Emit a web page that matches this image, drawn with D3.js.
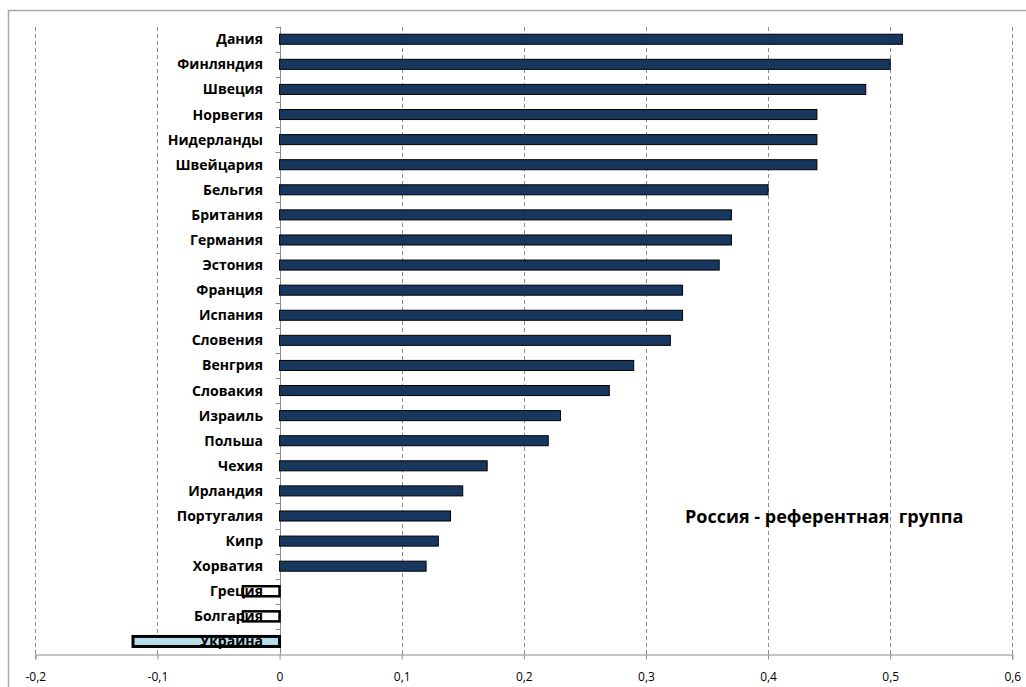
<!DOCTYPE html>
<html>
<head>
<meta charset="utf-8">
<script src="https://cdn.jsdelivr.net/npm/d3@7"></script>
<style>
  html, body { margin: 0; padding: 0; background: #fff; }
  svg { display: block; }
  text { font-family: "Open Sans", Lato, "DejaVu Sans", sans-serif; }
</style>
</head>
<body>
<svg id="chart" width="1026" height="687"></svg>
<script>
// Countries, top to bottom
const countries = [
  "Дания", "Финляндия", "Швеция", "Норвегия", "Нидерланды", "Швейцария",
  "Бельгия", "Британия", "Германия", "Эстония", "Франция", "Испания",
  "Словения", "Венгрия", "Словакия", "Израиль", "Польша", "Чехия",
  "Ирландия", "Португалия", "Кипр", "Хорватия", "Греция", "Болгария", "Украина"
];
// Difference against the reference group (Russia)
const values = [
  0.51, 0.50, 0.48, 0.44, 0.44, 0.44,
  0.40, 0.37, 0.37, 0.36, 0.33, 0.33,
  0.32, 0.29, 0.27, 0.23, 0.22, 0.17,
  0.15, 0.14, 0.13, 0.12, -0.03, -0.03, -0.12
];
// Bar style groups: 0 = regular, 1 = outlined, 2 = highlighted
const barStyle = [
  0, 0, 0, 0, 0, 0, 0, 0, 0, 0, 0, 0,
  0, 0, 0, 0, 0, 0, 0, 0, 0, 0, 1, 1, 2
];
const tickValues = [-0.2, -0.1, 0, 0.1, 0.2, 0.3, 0.4, 0.5, 0.6];
const tickLabels = ["-0,2", "-0,1", "0", "0,1", "0,2", "0,3", "0,4", "0,5", "0,6"];
const noteText = "Россия - референтная  группа";

const data = countries.map((c, i) => ({ country: c, value: values[i], style: barStyle[i] }));

const svg = d3.select("#chart");

// outer chart frame
svg.append("rect")
  .attr("x", 8.5).attr("y", 10.5)
  .attr("width", 1040).attr("height", 700)
  .attr("fill", "none").attr("stroke", "#a6a6a6").attr("stroke-width", 1.5);

const x = d3.scaleLinear().domain([-0.2, 0.6]).range([35.3, 1012.3]);
const y = d3.scaleBand().domain(countries).range([26.7, 654]).paddingInner(0.6).paddingOuter(0.3);

// dashed vertical gridlines
svg.append("g")
  .selectAll("line")
  .data(tickValues.filter(v => v !== 0))
  .join("line")
  .attr("x1", d => Math.round(x(d)) + 0.5).attr("x2", d => Math.round(x(d)) + 0.5)
  .attr("y1", 27).attr("y2", 654)
  .attr("stroke", "#8c8c8c").attr("stroke-width", 1)
  .attr("stroke-dasharray", "4,3");

// x axis
const xAxis = d3.axisBottom(x)
  .tickValues(tickValues)
  .tickFormat((d, i) => tickLabels[i])
  .tickSize(5)
  .tickPadding(13);

const gx = svg.append("g")
  .attr("transform", "translate(0,654.5)")
  .call(xAxis);
gx.select(".domain").attr("stroke", "#8c8c8c");
gx.selectAll(".tick line").attr("stroke", "#8c8c8c");
gx.selectAll(".tick text")
  .attr("fill", "#000")
  .style("font-size", "12px")
  .style("font-family", "'Open Sans', Lato, sans-serif");

// category axis along zero
const step = y.step();
const y0 = y.range()[0];
const zx = Math.round(x(0)) + 0.5;
const gy = svg.append("g");
gy.append("line")
  .attr("x1", zx).attr("x2", zx)
  .attr("y1", y0).attr("y2", 654)
  .attr("stroke", "#8c8c8c");
gy.selectAll("line.tk")
  .data(d3.range(countries.length))
  .join("line")
  .attr("class", "tk")
  .attr("x1", zx - 5).attr("x2", zx)
  .attr("y1", i => Math.round(y0 + i * step) + 0.5)
  .attr("y2", i => Math.round(y0 + i * step) + 0.5)
  .attr("stroke", "#8c8c8c");

const fills = ["#17375e", "none", "#b7dee8"];
const strokeW = [1, 2.5, 3];

const bx = d => x(Math.min(0, d.value));
const bw = d => Math.abs(x(d.value) - x(0));

// bar fills
svg.append("g")
  .selectAll("rect")
  .data(data)
  .join("rect")
  .attr("x", bx)
  .attr("y", d => y(d.country))
  .attr("width", bw)
  .attr("height", y.bandwidth())
  .attr("fill", d => fills[d.style]);

// category labels
svg.append("g")
  .selectAll("text")
  .data(data)
  .join("text")
  .attr("x", 263)
  .attr("y", d => y(d.country) + y.bandwidth() / 2)
  .attr("dy", "0.36em")
  .attr("text-anchor", "end")
  .style("font-size", "14px")
  .style("font-weight", "bold")
  .attr("fill", "#000")
  .text(d => d.country);

// bar outlines
svg.append("g")
  .selectAll("rect")
  .data(data)
  .join("rect")
  .attr("x", bx)
  .attr("y", d => y(d.country))
  .attr("width", bw)
  .attr("height", y.bandwidth())
  .attr("fill", "none")
  .attr("stroke", "#000")
  .attr("stroke-width", d => strokeW[d.style]);

// note
svg.append("text")
  .attr("x", 685).attr("y", 523)
  .style("font-size", "18px")
  .style("font-weight", "bold")
  .style("white-space", "pre")
  .attr("fill", "#000")
  .text(noteText);
</script>
</body>
</html>
